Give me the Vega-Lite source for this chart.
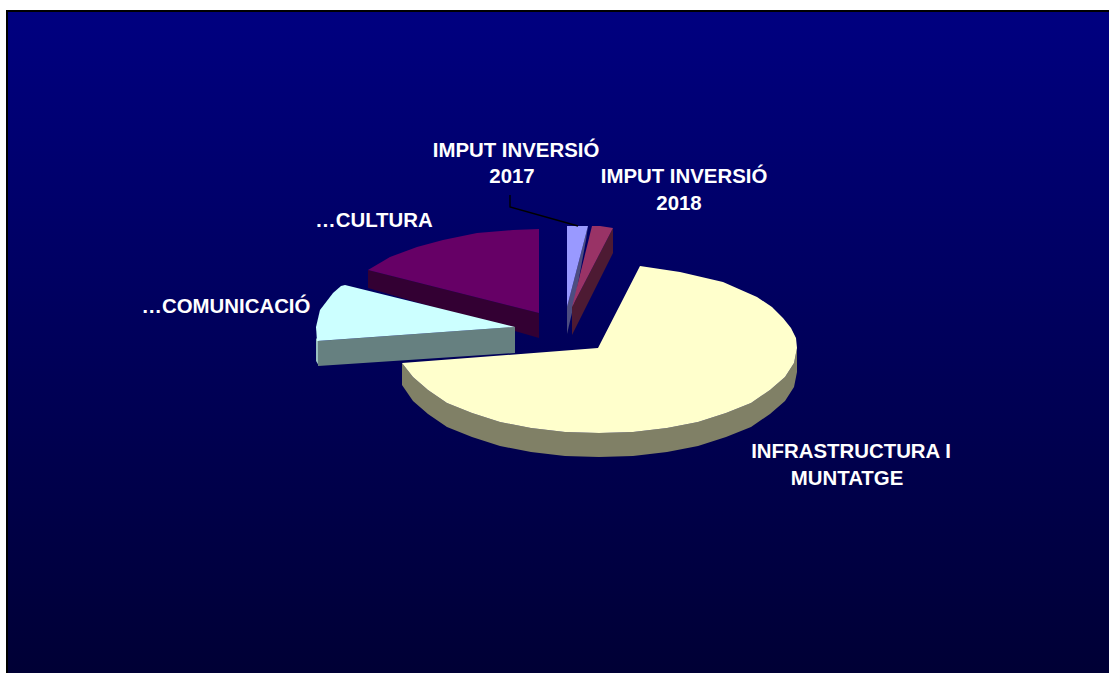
{"$schema":"https://vega.github.io/schema/vega-lite/v6.json","width":1109,"height":673,"padding":0,"autosize":{"type":"none"},"background":"white","config":{"view":{"stroke":null}},
"datasets":{
"frame":[{"x0":7,"x1":1125,"y0":11,"y1":690}],
"leader":[{"i":1,"x":510,"y":195},{"i":2,"x":510,"y":207},{"i":3,"x":578,"y":226}],
"labels":[
{"t":"IMPUT INVERSIÓ","x":516,"y":151},{"t":"2017","x":512,"y":177},
{"t":"IMPUT INVERSIÓ","x":684,"y":177},{"t":"2018","x":679,"y":204},
{"t":"…CULTURA","x":374,"y":221},{"t":"…COMUNICACIÓ","x":226,"y":307},
{"t":"INFRASTRUCTURA I","x":851,"y":452},{"t":"MUNTATGE","x":847,"y":479}],
"shapes":[
{"p":"cultura side","i":1,"x":368,"y":270},{"p":"cultura side","i":2,"x":539,"y":313},{"p":"cultura side","i":3,"x":539,"y":338},{"p":"cultura side","i":4,"x":368,"y":288},
{"p":"cultura top","i":1,"x":539,"y":313},{"p":"cultura top","i":2,"x":539,"y":229},{"p":"cultura top","i":3,"x":513,"y":230},{"p":"cultura top","i":4,"x":477,"y":233},{"p":"cultura top","i":5,"x":443,"y":240},{"p":"cultura top","i":6,"x":417,"y":247},{"p":"cultura top","i":7,"x":390,"y":257},{"p":"cultura top","i":8,"x":368,"y":270},
{"p":"2017 side","i":1,"x":588,"y":226},{"p":"2017 side","i":2,"x":567,"y":307},{"p":"2017 side","i":3,"x":567,"y":334},{"p":"2017 side","i":4,"x":575,"y":300},{"p":"2017 side","i":5,"x":586,"y":240},
{"p":"2017 top","i":1,"x":567,"y":226},{"p":"2017 top","i":2,"x":588,"y":226},{"p":"2017 top","i":3,"x":567,"y":307},
{"p":"2018 side","i":1,"x":613,"y":228},{"p":"2018 side","i":2,"x":613,"y":253},{"p":"2018 side","i":3,"x":572,"y":335},{"p":"2018 side","i":4,"x":572,"y":307},
{"p":"2018 top","i":1,"x":592,"y":226},{"p":"2018 top","i":2,"x":600,"y":226},{"p":"2018 top","i":3,"x":613,"y":228},{"p":"2018 top","i":4,"x":572,"y":307},
{"p":"comunicacio edge","i":1,"x":316,"y":338},{"p":"comunicacio edge","i":2,"x":319,"y":341},{"p":"comunicacio edge","i":3,"x":319,"y":366},{"p":"comunicacio edge","i":4,"x":316,"y":361},
{"p":"comunicacio side","i":1,"x":318,"y":341},{"p":"comunicacio side","i":2,"x":515,"y":327},{"p":"comunicacio side","i":3,"x":515,"y":353},{"p":"comunicacio side","i":4,"x":318,"y":366},
{"p":"comunicacio top","i":1,"x":515,"y":327},{"p":"comunicacio top","i":2,"x":345,"y":285},{"p":"comunicacio top","i":3,"x":341,"y":286},{"p":"comunicacio top","i":4,"x":333,"y":293},{"p":"comunicacio top","i":5,"x":320,"y":310},{"p":"comunicacio top","i":6,"x":316,"y":327},{"p":"comunicacio top","i":7,"x":317,"y":341},
{"p":"infra side","i":1,"x":797,"y":348},{"p":"infra side","i":2,"x":794,"y":363},{"p":"infra side","i":3,"x":785,"y":377},{"p":"infra side","i":4,"x":770,"y":390},{"p":"infra side","i":5,"x":751,"y":403},{"p":"infra side","i":6,"x":726,"y":413},{"p":"infra side","i":7,"x":698,"y":422},{"p":"infra side","i":8,"x":667,"y":428},{"p":"infra side","i":9,"x":633,"y":432},{"p":"infra side","i":10,"x":599,"y":433},{"p":"infra side","i":11,"x":565,"y":432},{"p":"infra side","i":12,"x":531,"y":428},{"p":"infra side","i":13,"x":500,"y":422},{"p":"infra side","i":14,"x":472,"y":413},{"p":"infra side","i":15,"x":447,"y":403},{"p":"infra side","i":16,"x":428,"y":390},{"p":"infra side","i":17,"x":413,"y":377},{"p":"infra side","i":18,"x":402,"y":363},{"p":"infra side","i":19,"x":402,"y":385},{"p":"infra side","i":20,"x":413,"y":401},{"p":"infra side","i":21,"x":428,"y":414},{"p":"infra side","i":22,"x":447,"y":427},{"p":"infra side","i":23,"x":472,"y":437},{"p":"infra side","i":24,"x":500,"y":446},{"p":"infra side","i":25,"x":531,"y":452},{"p":"infra side","i":26,"x":565,"y":456},{"p":"infra side","i":27,"x":599,"y":457},{"p":"infra side","i":28,"x":633,"y":456},{"p":"infra side","i":29,"x":667,"y":452},{"p":"infra side","i":30,"x":698,"y":446},{"p":"infra side","i":31,"x":726,"y":437},{"p":"infra side","i":32,"x":751,"y":427},{"p":"infra side","i":33,"x":770,"y":414},{"p":"infra side","i":34,"x":785,"y":401},{"p":"infra side","i":35,"x":794,"y":387},{"p":"infra side","i":36,"x":797,"y":372},
{"p":"infra top","i":1,"x":598,"y":348},{"p":"infra top","i":2,"x":640,"y":266},{"p":"infra top","i":3,"x":680,"y":272},{"p":"infra top","i":4,"x":723,"y":282},{"p":"infra top","i":5,"x":757,"y":297},{"p":"infra top","i":6,"x":772,"y":307},{"p":"infra top","i":7,"x":783,"y":318},{"p":"infra top","i":8,"x":791,"y":328},{"p":"infra top","i":9,"x":796,"y":338},{"p":"infra top","i":10,"x":797,"y":348},{"p":"infra top","i":11,"x":794,"y":363},{"p":"infra top","i":12,"x":785,"y":377},{"p":"infra top","i":13,"x":770,"y":390},{"p":"infra top","i":14,"x":751,"y":403},{"p":"infra top","i":15,"x":726,"y":413},{"p":"infra top","i":16,"x":698,"y":422},{"p":"infra top","i":17,"x":667,"y":428},{"p":"infra top","i":18,"x":633,"y":432},{"p":"infra top","i":19,"x":599,"y":433},{"p":"infra top","i":20,"x":565,"y":432},{"p":"infra top","i":21,"x":531,"y":428},{"p":"infra top","i":22,"x":500,"y":422},{"p":"infra top","i":23,"x":472,"y":413},{"p":"infra top","i":24,"x":447,"y":403},{"p":"infra top","i":25,"x":428,"y":390},{"p":"infra top","i":26,"x":413,"y":377},{"p":"infra top","i":27,"x":402,"y":363}
]},
"layer":[
{"data":{"name":"frame"},"mark":{"type":"rect","stroke":"#000000","strokeWidth":2,"color":{"gradient":"linear","x1":0,"y1":0,"x2":0,"y2":1,"stops":[{"offset":0,"color":"#000080"},{"offset":1,"color":"#000033"}]}},
"encoding":{"x":{"field":"x0","type":"quantitative","scale":{"domain":[0,1109],"nice":false,"zero":false},"axis":null},"x2":{"field":"x1"},"y":{"field":"y0","type":"quantitative","scale":{"domain":[0,673],"reverse":true,"nice":false,"zero":false},"axis":null},"y2":{"field":"y1"}}},
{"data":{"name":"shapes"},"mark":{"type":"line","filled":true,"clip":true,"interpolate":"linear-closed"},
"encoding":{"x":{"field":"x","type":"quantitative","scale":{"domain":[0,1109],"nice":false,"zero":false},"axis":null},"y":{"field":"y","type":"quantitative","scale":{"domain":[0,673],"reverse":true,"nice":false,"zero":false},"axis":null},"order":{"field":"i","type":"quantitative"},
"fill":{"field":"p","type":"nominal","legend":null,"sort":null,"scale":{"domain":["cultura side","cultura top","2017 side","2017 top","2018 side","2018 top","comunicacio edge","comunicacio side","comunicacio top","infra side","infra top"],"range":["#330033","#660066","#4D4D80","#9999FF","#4D1A33","#993366","#99BFBF","#668080","#CCFFFF","#808066","#FFFFCC"]}}}},
{"data":{"name":"leader"},"mark":{"type":"line","color":"#000000","strokeWidth":1.4},
"encoding":{"x":{"field":"x","type":"quantitative","scale":{"domain":[0,1109],"nice":false,"zero":false},"axis":null},"y":{"field":"y","type":"quantitative","scale":{"domain":[0,673],"reverse":true,"nice":false,"zero":false},"axis":null},"order":{"field":"i","type":"quantitative"}}},
{"data":{"name":"labels"},"mark":{"type":"text","font":"Liberation Sans","fontWeight":"bold","fontSize":20.4,"color":"#FFFFFF","align":"center","baseline":"middle"},
"encoding":{"x":{"field":"x","type":"quantitative","scale":{"domain":[0,1109],"nice":false,"zero":false},"axis":null},"y":{"field":"y","type":"quantitative","scale":{"domain":[0,673],"reverse":true,"nice":false,"zero":false},"axis":null},"text":{"field":"t","type":"nominal"}}}
]}
